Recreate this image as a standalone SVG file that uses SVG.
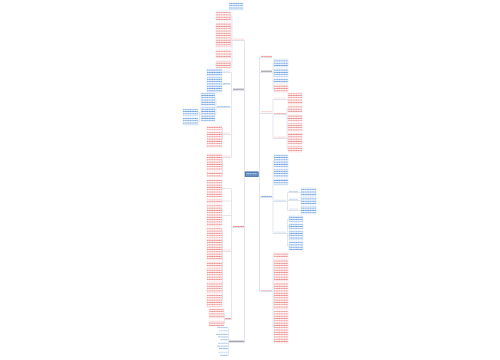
<svg xmlns="http://www.w3.org/2000/svg" width="500" height="360" viewBox="0 0 500 360">
<defs>
<pattern id="pr" width="2.4" height="2.3" patternUnits="userSpaceOnUse"><rect x="0.2" y="0.6" width="1.9" height="1" fill="#e87a7a"/></pattern>
<pattern id="pb" width="2.4" height="2.3" patternUnits="userSpaceOnUse"><rect x="0.2" y="0.6" width="1.9" height="1" fill="#5a94dc"/></pattern>
<pattern id="pw" width="2.4" height="2.3" patternUnits="userSpaceOnUse"><rect x="0.2" y="0.5" width="1.9" height="1.2" fill="#e9f0fa"/></pattern>
</defs>
<style>
.r{fill:url(#pr);stroke:#f4cccc;stroke-width:.4}
.b{fill:url(#pb);stroke:#c0d6f0;stroke-width:.4}
.lr{fill:url(#pr)}
.lb{fill:url(#pb)}
.ld{fill:#6b6b7a}
.ul{stroke:#c3c8d6;stroke-width:.5}
.c{fill:none;stroke:#c9cdda;stroke-width:.5}
</style>

<g id="connectors">
<path class="c" d="M244.5 40.5V342.5M259.5 57.5V291.5"/>
<path class="c" d="M233 40.5H232M232 16V64.5M231 16H232M231 27.5H232M231 40H232M231 54H232M231 64.5H232"/>
<path class="c" d="M233 90.5H231.5M231.5 72.5V157.5M230.5 72.5H231.5M230.5 84.5H231.5M230.5 107.5H231.5M230.5 134.5H231.5M230.5 157.5H231.5"/>
<path class="c" d="M223 72.5H222M223 84.5H222M217 107.5H216V99H215M216 107.5V114H215M201 114H199.5V112.5H198M199.5 114V121.5H198"/>
<path class="c" d="M223 134.5H222.5V128H222M222.5 134.5V139.5H222M223 157.5H222.5V174.5H222M222.5 162H222"/>
<path class="c" d="M233 227.5H231.5M231.5 188.5V319.5M222 188.5H231.5M222 201H231.5M222 215.5H231.5M231 251.5H231.5M231 319.5H231.5"/>
<path class="c" d="M223 251.5H222.5M222.5 230V301M222 230H222.5M222 235.5H222.5M222 249.5H222.5M222 264.5H222.5M222 274H222.5M222 284.5H222.5M222 290.5H222.5M222 301H222.5"/>
<path class="c" d="M225 319.5H224.5V313.5H224M224.5 319.5V323.5H224"/>
<path class="c" d="M229 342.5H228.5M228.5 328.5V355.5"/>
<path class="c" d="M272 72.5H273M273 63V88.5M273 63H274M273 73H274M273 81H274M273 88.5H274"/>
<path class="c" d="M272 113.5H273M273 99.5V138.5M273 99.5H274M273 138.5H274M286 99.5H288M286 114.5H287M287 109V149M287 109H288M287 118H288M287 127H288M287 138.5H288M287 149H288"/>
<path class="c" d="M272 197.5H273M273 161V233.5M273 161H274M273 173H274M273 182H274M273 201.5H274M273 233.5H274"/>
<path class="c" d="M286 201.5H287.5M287.5 192.5V210.5M287.5 192.5H289M287.5 200.5H289M287.5 210.5H289M298 192.5H301M298 200.5H301M298 210.5H301"/>
<path class="c" d="M286 233.5H287.5M287.5 219V246M287.5 219H289M287.5 226.5H289M287.5 235.5H289M287.5 246H289"/>
<path class="c" d="M272 291.5H273M273 255V327M273 255H274M273 270H274M273 296H274M273 327H274"/>
</g>

<g id="center"><rect x="245" y="171.8" width="13.5" height="5" fill="#4a7db8" stroke="#3a6396" stroke-width=".4"/><rect x="246" y="173.2" width="11.5" height="2.2" fill="url(#pw)"/></g>

<g id="top-note"><rect class="b" x="229" y="3" width="14" height="7"/></g>

<g id="L1"><rect class="lr" x="233" y="38.6" width="11" height="1.5"/><line class="ul" x1="233" y1="40.5" x2="244.5" y2="40.5"/></g>
<g id="L1a"><rect class="r" x="216" y="12" width="15" height="8"/></g>
<g id="L1b"><rect class="r" x="216" y="23" width="15" height="9"/></g>
<g id="L1c"><rect class="r" x="216" y="33" width="15" height="14"/></g>
<g id="L1d"><rect class="r" x="216" y="50" width="15" height="8"/></g>
<g id="L1e"><rect class="r" x="216" y="61" width="15" height="7"/></g>

<g id="L2"><rect class="ld" x="233" y="88.6" width="11" height="1.3" opacity=".6"/><line class="ul" x1="233" y1="90.5" x2="244.5" y2="90.5"/></g>
<g id="L2s1"><rect class="lb" x="223" y="70.8" width="7" height="1.3"/><line class="ul" x1="223" y1="72.5" x2="230.5" y2="72.5"/></g>
<g id="L2s1a"><rect class="b" x="207" y="69" width="15" height="7"/></g>
<g id="L2s2"><rect class="lb" x="223" y="82.8" width="7" height="1.3"/><line class="ul" x1="223" y1="84.5" x2="230.5" y2="84.5"/></g>
<g id="L2s2a"><rect class="b" x="207" y="77" width="15" height="15"/></g>
<g id="L2s3"><rect class="lb" x="217" y="105.8" width="13" height="1.3"/><line class="ul" x1="217" y1="107.5" x2="230.5" y2="107.5"/></g>
<g id="L2s3a"><rect class="b" x="201" y="93" width="14" height="12"/></g>
<g id="L2s3b"><rect class="b" x="201" y="107" width="14" height="14"/></g>
<g id="L2s3c"><rect class="b" x="183" y="109" width="15" height="7"/></g>
<g id="L2s3d"><rect class="b" x="183" y="118" width="15" height="7"/></g>
<g id="L2s4"><rect class="lr" x="223" y="132.8" width="7" height="1.3"/><line class="ul" x1="223" y1="134.5" x2="230.5" y2="134.5"/></g>
<g id="L2s4a"><rect class="r" x="207" y="126" width="15" height="4"/></g>
<g id="L2s4b"><rect class="r" x="207" y="132" width="15" height="15"/></g>
<g id="L2s5"><rect class="lr" x="223" y="155.8" width="7" height="1.3"/><line class="ul" x1="223" y1="157.5" x2="230.5" y2="157.5"/></g>
<g id="L2s5a"><rect class="r" x="207" y="154" width="15" height="16"/></g>
<g id="L2s5b"><rect class="r" x="207" y="172" width="15" height="5"/></g>

<g id="L3"><rect class="lr" x="233" y="225.6" width="11" height="1.5"/><line class="ul" x1="233" y1="227.5" x2="244.5" y2="227.5"/></g>
<g id="L3a"><rect class="r" x="207" y="180" width="15" height="17"/></g>
<g id="L3b"><rect class="r" x="207" y="199" width="15" height="4"/></g>
<g id="L3c"><rect class="r" x="207" y="205" width="15" height="21"/></g>
<g id="L3s1"><rect class="lr" x="223" y="249.8" width="8" height="1.3"/><line class="ul" x1="223" y1="251.5" x2="231" y2="251.5"/></g>
<g id="L3s1a"><rect class="r" x="207" y="228" width="15" height="4"/></g>
<g id="L3s1b"><rect class="r" x="207" y="233" width="15" height="5"/></g>
<g id="L3s1c"><rect class="r" x="207" y="239" width="15" height="21"/></g>
<g id="L3s1d"><rect class="r" x="207" y="262" width="15" height="5"/></g>
<g id="L3s1e"><rect class="r" x="207" y="268" width="15" height="12"/></g>
<g id="L3s1f"><rect class="r" x="207" y="282" width="15" height="5"/></g>
<g id="L3s1g"><rect class="r" x="207" y="288" width="15" height="5"/></g>
<g id="L3s1h"><rect class="r" x="207" y="295" width="15" height="12"/></g>
<g id="L3s2"><rect class="lr" x="225" y="317.8" width="6" height="1.3"/><line class="ul" x1="225" y1="319.5" x2="231" y2="319.5"/></g>
<g id="L3s2a"><rect class="r" x="209" y="309" width="15" height="9"/></g>
<g id="L3s2b"><rect class="r" x="209" y="321" width="15" height="5"/></g>

<g id="L4"><rect class="ld" x="229" y="340.6" width="15" height="1.4" opacity=".6"/><line class="ul" x1="229" y1="342.5" x2="244.5" y2="342.5"/></g>
<g id="L4a"><rect class="lb" x="217" y="327.3" width="11" height="1.4"/></g>
<g id="L4b"><rect class="lb" x="219" y="330.3" width="9" height="1.4"/></g>
<g id="L4c"><rect class="lb" x="216" y="333.3" width="12" height="1.4"/></g>
<g id="L4d"><rect class="lb" x="218" y="336.3" width="10" height="1.4"/></g>
<g id="L4e"><rect class="lb" x="220" y="339.3" width="8" height="1.4"/></g>
<g id="L4f"><rect class="lb" x="218" y="342.3" width="10" height="1.4"/></g>
<g id="L4g"><rect class="lb" x="217" y="345.3" width="11" height="1.4"/></g>
<g id="L4h"><rect class="lb" x="219" y="348.3" width="9" height="1.4"/></g>
<g id="L4i"><rect class="lb" x="218" y="351.3" width="10" height="1.4"/></g>
<g id="L4j"><rect class="lb" x="220" y="354.3" width="8" height="1.4"/></g>

<g id="R1"><rect class="lr" x="261" y="55.6" width="11" height="1.5"/><line class="ul" x1="259.5" y1="57.5" x2="272" y2="57.5"/></g>

<g id="R2"><rect class="ld" x="261" y="70.6" width="11" height="1.3" opacity=".6"/><line class="ul" x1="259.5" y1="72.5" x2="272" y2="72.5"/></g>
<g id="R2a"><rect class="b" x="274" y="59" width="14" height="8"/></g>
<g id="R2b"><rect class="b" x="274" y="69" width="14" height="8"/></g>
<g id="R2c"><rect class="b" x="274" y="79" width="14" height="4"/></g>
<g id="R2d"><rect class="r" x="274" y="85" width="14" height="7"/></g>

<g id="R3"><rect class="lr" x="261" y="111.6" width="11" height="1.5"/><line class="ul" x1="259.5" y1="113.5" x2="272" y2="113.5"/></g>
<g id="R3s1"><rect class="lr" x="274" y="97.8" width="12" height="1.3"/><line class="ul" x1="274" y1="99.5" x2="286" y2="99.5"/></g>
<g id="R3s1a"><rect class="r" x="288" y="93" width="14" height="11"/></g>
<g id="R3s2"><rect class="lr" x="274" y="112.8" width="12" height="1.3"/><line class="ul" x1="274" y1="114.5" x2="286" y2="114.5"/></g>
<g id="R3s2a"><rect class="r" x="288" y="106" width="14" height="6"/></g>
<g id="R3s2b"><rect class="r" x="288" y="115" width="14" height="6"/></g>
<g id="R3s2c"><rect class="r" x="288" y="123" width="14" height="8"/></g>
<g id="R3s3"><rect class="lr" x="274" y="136.8" width="12" height="1.3"/><line class="ul" x1="274" y1="138.5" x2="286" y2="138.5"/></g>
<g id="R3s3a"><rect class="r" x="288" y="133" width="14" height="11"/></g>
<g id="R3s3b"><rect class="r" x="288" y="146" width="14" height="6"/></g>

<g id="R4"><rect class="lb" x="261" y="195.6" width="11" height="1.5"/><line class="ul" x1="259.5" y1="197.5" x2="272" y2="197.5"/></g>
<g id="R4a"><rect class="b" x="274" y="155" width="14" height="12"/></g>
<g id="R4b"><rect class="b" x="274" y="169" width="14" height="8"/></g>
<g id="R4c"><rect class="b" x="274" y="179" width="14" height="6"/></g>
<g id="R4s1"><rect class="lb" x="274" y="199.8" width="12" height="1.3"/><line class="ul" x1="274" y1="201.5" x2="286" y2="201.5"/></g>
<g id="R4s1x"><rect class="lb" x="289" y="190.8" width="9" height="1.3"/><line class="ul" x1="289" y1="192.5" x2="298" y2="192.5"/></g>
<g id="R4s1xa"><rect class="b" x="301" y="188" width="15" height="8"/></g>
<g id="R4s1y"><rect class="lb" x="289" y="198.8" width="9" height="1.3"/><line class="ul" x1="289" y1="200.5" x2="298" y2="200.5"/></g>
<g id="R4s1ya"><rect class="b" x="301" y="197" width="15" height="7"/></g>
<g id="R4s1z"><rect class="lb" x="289" y="208.8" width="9" height="1.3"/><line class="ul" x1="289" y1="210.5" x2="298" y2="210.5"/></g>
<g id="R4s1za"><rect class="b" x="301" y="206" width="15" height="8"/></g>
<g id="R4s2"><rect class="lb" x="274" y="231.8" width="12" height="1.3"/><line class="ul" x1="274" y1="233.5" x2="286" y2="233.5"/></g>
<g id="R4s2a"><rect class="b" x="289" y="216" width="14" height="6"/></g>
<g id="R4s2b"><rect class="b" x="289" y="224" width="14" height="5"/></g>
<g id="R4s2c"><rect class="b" x="289" y="231" width="14" height="9"/></g>
<g id="R4s2d"><rect class="b" x="289" y="242" width="14" height="8"/></g>

<g id="R5"><rect class="lr" x="261" y="289.6" width="11" height="1.5"/><line class="ul" x1="259.5" y1="291.5" x2="272" y2="291.5"/></g>
<g id="R5a"><rect class="r" x="274" y="253" width="14" height="4"/></g>
<g id="R5b"><rect class="r" x="274" y="259" width="14" height="22"/></g>
<g id="R5c"><rect class="r" x="274" y="283" width="14" height="26"/></g>
<g id="R5d"><rect class="r" x="274" y="311" width="14" height="32"/></g>
</svg>
